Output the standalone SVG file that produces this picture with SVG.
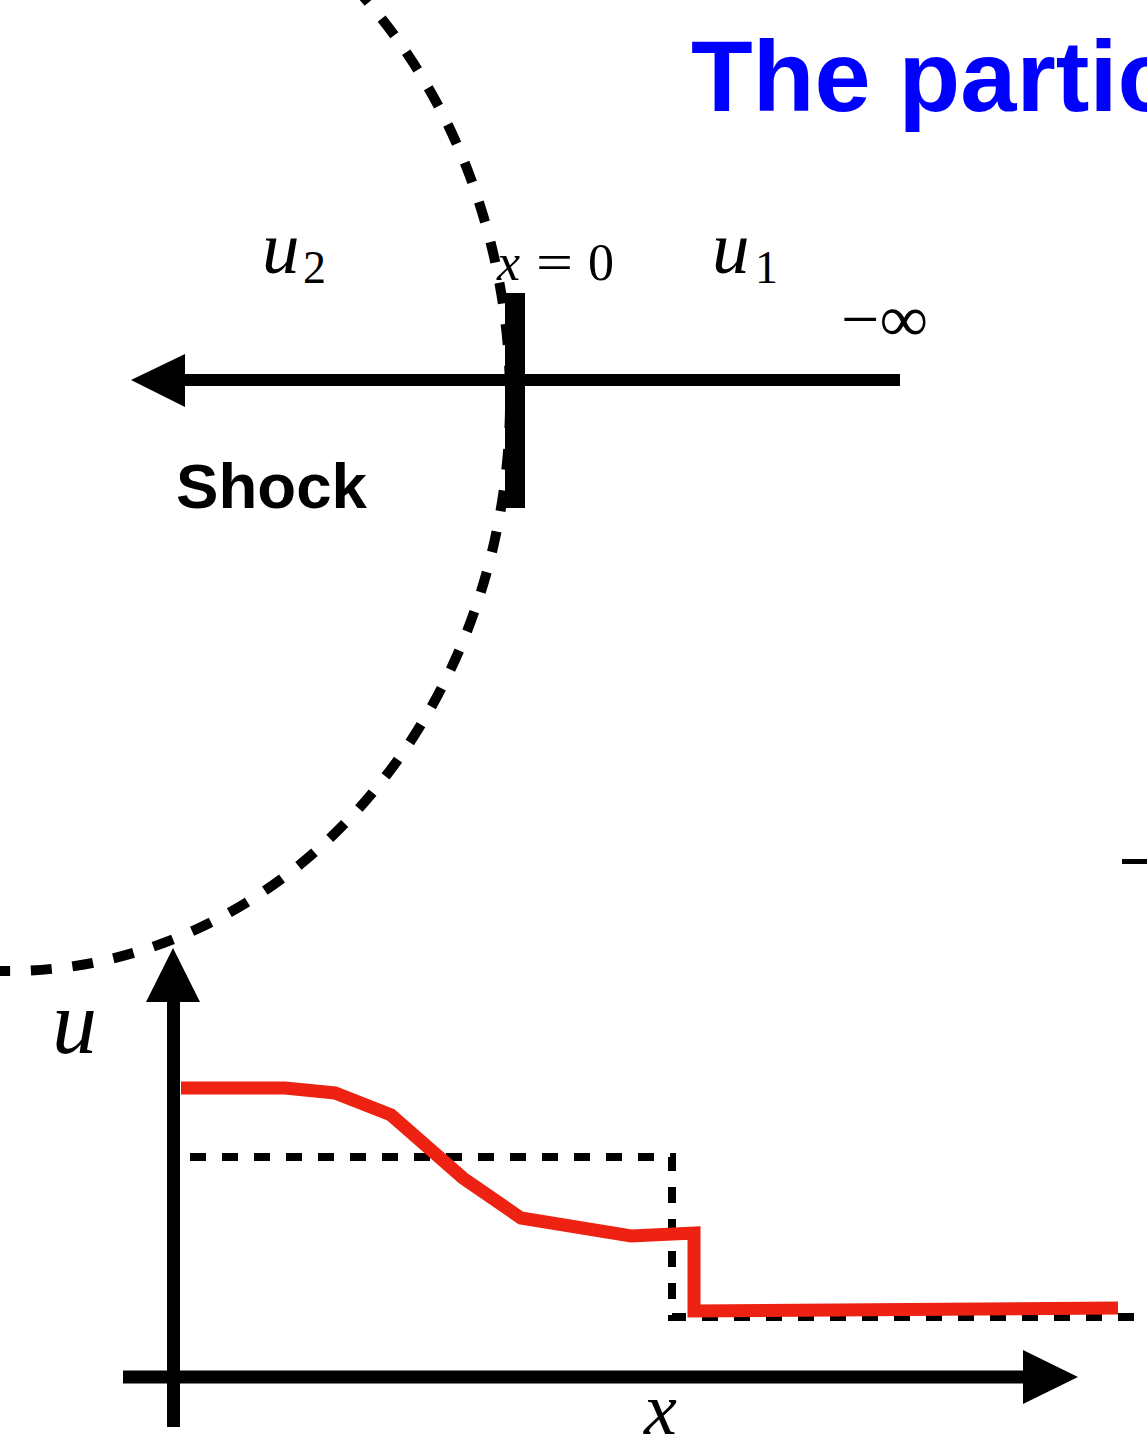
<svg xmlns="http://www.w3.org/2000/svg" width="1147" height="1448" viewBox="0 0 1147 1448">
<style>
.math{font-family:"Liberation Serif","Times New Roman",serif;fill:#000}
.it{font-style:italic}
.sans{font-family:"Liberation Sans",Arial,sans-serif;font-weight:bold}
.ax{stroke:#000;fill:none}
.head{fill:#000;stroke:none}
.dash{fill:none;stroke:#000}
.curve{fill:none;stroke:#ED2212;stroke-width:13;stroke-linejoin:miter}
</style>
<rect width="1147" height="1448" fill="#fff"/>

<g id="title">
  <text class="sans" x="691" y="111" font-size="101" fill="#0000FF">The partic</text>
</g>

<g id="shock-surface">
  <path class="dash" d="M -40 968.4 A 502 571 0 0 0 300 -64.5" stroke-width="10" stroke-dasharray="21 20.7" stroke-dashoffset="12.4"/>
</g>

<g id="connectors">
  <line class="ax" x1="182" y1="380" x2="900" y2="380" stroke-width="12"/>
  <polygon class="head" points="131,380 185,354 185,407"/>
</g>

<g id="shock-bar">
  <rect x="505" y="293" width="20" height="215" fill="#000"/>
</g>

<g id="label-u2">
  <text class="math it" x="262" y="273" font-size="75">u</text>
  <text class="math" x="303" y="283" font-size="46">2</text>
</g>
<g id="label-x0">
  <text class="math it" x="497" y="280" font-size="52">x</text>
  <text class="math" x="536" y="280" font-size="52" textLength="37" lengthAdjust="spacingAndGlyphs">=</text>
  <text class="math" x="588" y="280" font-size="52">0</text>
</g>
<g id="label-u1">
  <text class="math it" x="712" y="273" font-size="75">u</text>
  <text class="math" x="755" y="283" font-size="46">1</text>
</g>
<g id="label-minf">
  <text class="math" x="841" y="341" font-size="66" textLength="87" lengthAdjust="spacingAndGlyphs">−∞</text>
</g>
<g id="label-shock">
  <text class="sans" x="176" y="508" font-size="63" fill="#000" textLength="191" lengthAdjust="spacingAndGlyphs">Shock</text>
</g>

<g id="edge-mark">
  <rect x="1122" y="859" width="25" height="5" fill="#000"/>
</g>

<g id="plot">
  <g id="axes">
    <line class="ax" x1="173.5" y1="1000" x2="173.5" y2="1427" stroke-width="13"/>
    <polygon class="head" points="173,948 146,1002 200,1002"/>
    <line class="ax" x1="123" y1="1377" x2="1025" y2="1377" stroke-width="13"/>
    <polygon class="head" points="1078,1377 1023,1350 1023,1404"/>
  </g>
  <g id="step-profile">
    <path class="dash" d="M190 1157 H672 V1317 H1147" stroke-width="8" stroke-dasharray="16 16"/>
  </g>
  <g id="smooth-profile">
    <path class="curve" d="M181 1088 L285 1088 L335 1093 L391 1115 L463 1178 L521 1218 L631 1236 L694 1233 L694 1311 L1118 1308"/>
  </g>
  <g id="label-u">
    <text class="math it" x="52" y="1053" font-size="90">u</text>
  </g>
  <g id="label-x">
    <text class="math it" x="644" y="1434" font-size="74">x</text>
  </g>
</g>
</svg>
